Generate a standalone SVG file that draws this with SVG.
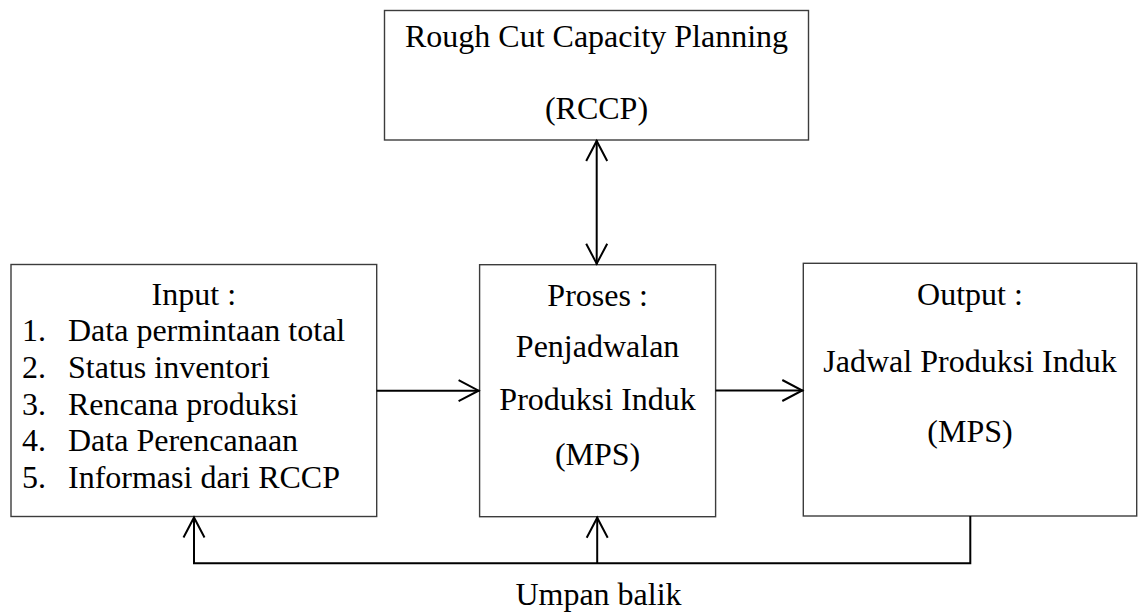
<svg xmlns="http://www.w3.org/2000/svg" width="1138" height="612" viewBox="0 0 1138 612">
<style>
.box{fill:#fff;stroke:#3c3c3c;stroke-width:1.4}
.t{font-family:"Liberation Serif","Times New Roman",serif;font-size:32px;fill:#000}
.c{text-anchor:middle}
.ln{fill:none;stroke:#000;stroke-width:2}
</style>
<defs>
<marker id="arr" viewBox="-24 -14 28 28" refX="0" refY="0" markerWidth="28" markerHeight="28" markerUnits="userSpaceOnUse" orient="auto-start-reverse">
<path d="M -21 -10.5 L -1 0 L -21 10.5" fill="none" stroke="#000" stroke-width="2"/>
</marker>
</defs>
<rect width="1138" height="612" fill="#fff"/>
<g id="rccp">
<rect class="box" x="384.5" y="10.5" width="424" height="129.5"/>
<text class="t c" x="596.5" y="46.5">Rough Cut Capacity Planning</text>
<text class="t c" x="596.5" y="118.5">(RCCP)</text>
</g>
<g id="input">
<rect class="box" x="11" y="264.5" width="365.7" height="252"/>
<text class="t c" x="193.8" y="305">Input :</text>
<text class="t" x="22" y="341">1.</text><text class="t" x="68" y="341">Data permintaan total</text>
<text class="t" x="22" y="378">2.</text><text class="t" x="68" y="378">Status inventori</text>
<text class="t" x="22" y="414.5">3.</text><text class="t" x="68" y="414.5">Rencana produksi</text>
<text class="t" x="22" y="451">4.</text><text class="t" x="68" y="451">Data Perencanaan</text>
<text class="t" x="22" y="488">5.</text><text class="t" x="68" y="488">Informasi dari RCCP</text>
</g>
<g id="proses">
<rect class="box" x="479.6" y="264.7" width="236" height="252"/>
<text class="t c" x="597.6" y="306">Proses :</text>
<text class="t c" x="597.6" y="357">Penjadwalan</text>
<text class="t c" x="597.6" y="409.5">Produksi Induk</text>
<text class="t c" x="597.6" y="465">(MPS)</text>
</g>
<g id="output">
<rect class="box" x="803.3" y="263.3" width="333.4" height="252.7"/>
<text class="t c" x="970" y="305">Output :</text>
<text class="t c" x="970" y="372">Jadwal Produksi Induk</text>
<text class="t c" x="970" y="441.5">(MPS)</text>
</g>
<g id="connectors">
<line class="ln" x1="596.7" y1="140" x2="596.7" y2="264.7" marker-start="url(#arr)" marker-end="url(#arr)"/>
<line class="ln" x1="376.7" y1="390.7" x2="479.6" y2="390.7" marker-end="url(#arr)"/>
<line class="ln" x1="715.6" y1="390.5" x2="803.3" y2="390.5" marker-end="url(#arr)"/>
<polyline class="ln" points="970.3,516 970.3,563.3 194,563.3 194,516.5" marker-end="url(#arr)"/>
<line class="ln" x1="597.2" y1="563.3" x2="597.2" y2="516.7" marker-end="url(#arr)"/>
</g>
<text id="umpan" class="t c" x="598.5" y="605">Umpan balik</text>
</svg>
